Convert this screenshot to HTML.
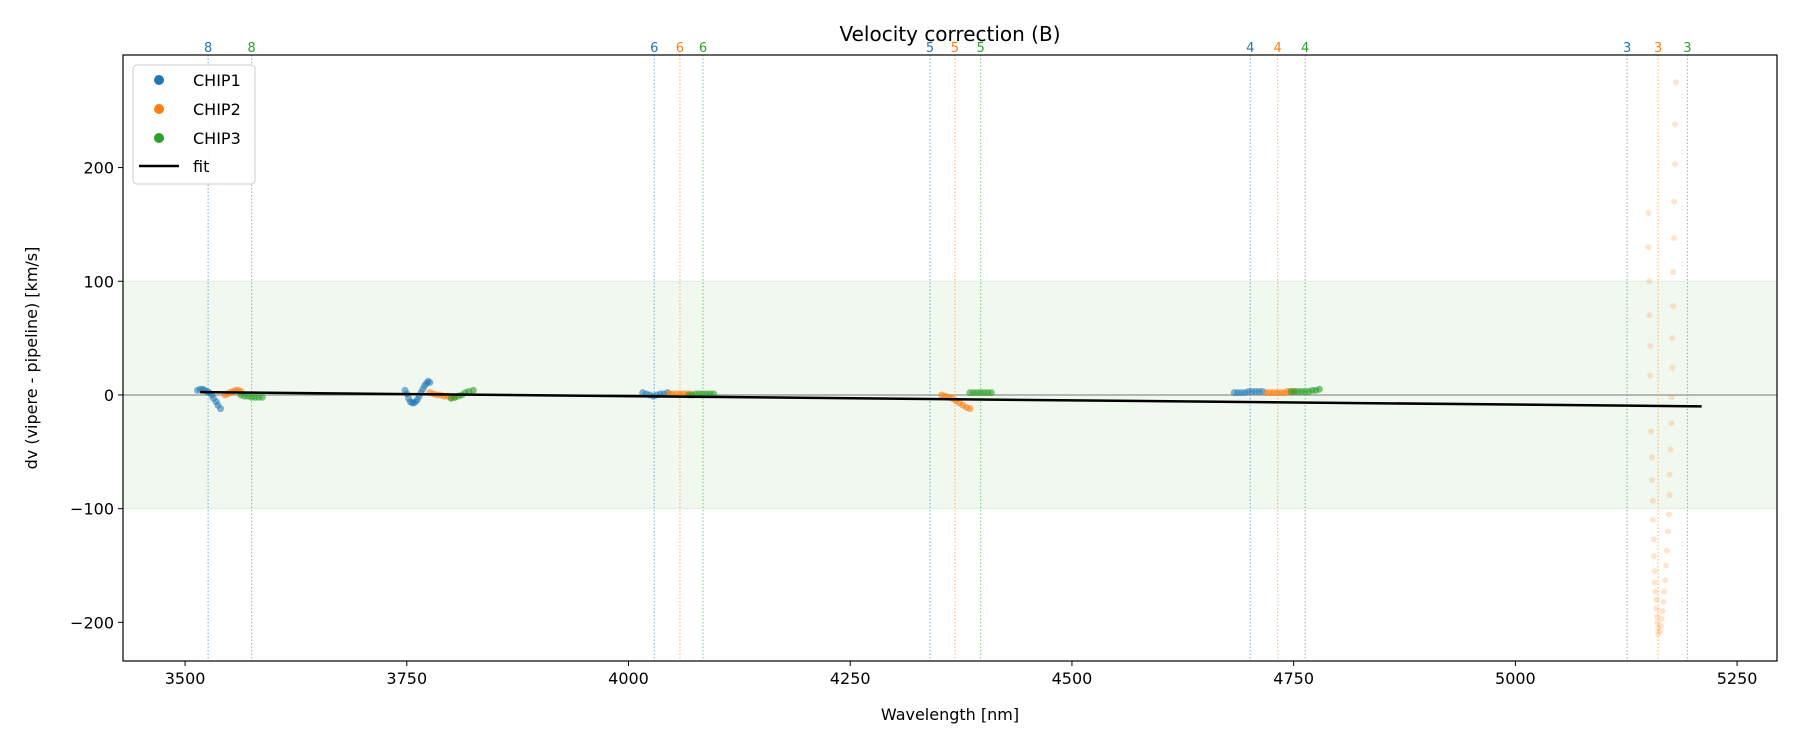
<!DOCTYPE html>
<html><head><meta charset="utf-8"><style>
body{margin:0;background:#fff;}
svg{display:block;font-family:"DejaVu Sans","Liberation Sans",sans-serif;}
</style></head><body>
<svg id="chart" width="1800" height="750"></svg>
<script>
// ---- data ----
const xTicks=[3500,3750,4000,4250,4500,4750,5000,5250];
const yTicks=[-200,-100,0,100,200];
const orderChip1=[3526,4029,4340,4701,5126];
const orderChip2=[4058,4368,4732,5161];
const orderChip3=[3575,4084,4397,4763,5194];
const orderLabels1=["8","6","5","4","3"];
const orderLabels2=["6","5","4","3"];
const orderLabels3=["8","6","5","4","3"];
const chip1W=[3514,3517,3520,3522,3525,3527,3530,3532,3535,3537,3540,3748,3750,3752,3754,3756,3758,3760,3762,3764,3766,3768,3770,3772,3774,3776,4016,4020,4024,4028,4032,4036,4040,4044,4683,4687,4691,4695,4699,4703,4707,4711,4715];
const chip1V=[4,5,5,4,3,2,0,-3,-6,-9,-12,4,1,-3,-6,-7,-7,-6,-4,-1,2,5,8,10,12,11,2,1,0,-1,0,1,1,2,2,2,2,2,3,3,3,3,3];
const chip2W=[3545,3548,3551,3554,3557,3560,3563,3776,3780,3784,3788,3792,3796,3800,3804,4046,4050,4054,4058,4062,4066,4070,4353,4357,4361,4365,4369,4373,4377,4381,4385,4719,4723,4727,4731,4735,4739,4743,4747,4751];
const chip2V=[0,1,2,3,4,4,3,2,1,0,0,-1,-1,-2,-2,1,1,1,1,1,1,1,0,-1,-2,-3,-5,-7,-9,-11,-12,2,2,2,2,2,2,3,3,3];
const chip3W=[3563,3567,3571,3575,3579,3583,3587,3800,3804,3808,3812,3816,3820,3825,4068,4072,4076,4080,4084,4088,4092,4096,4385,4389,4393,4397,4401,4405,4409,4747,4751,4755,4759,4763,4767,4771,4775,4779];
const chip3V=[0,-1,-1,-2,-2,-2,-2,-3,-2,-1,0,2,3,4,0,0,1,1,1,1,1,1,2,2,2,2,2,2,2,3,3,3,3,3,3,4,4,5];
const outW=[5150,5150,5151,5151,5152,5152,5153,5154,5154,5155,5155,5156,5156,5157,5157,5158,5159,5159,5160,5160,5161,5161,5181,5180,5180,5179,5179,5178,5178,5177,5177,5176,5176,5175,5174,5174,5173,5172,5171,5170,5169,5168,5167,5166,5165,5164,5163];
const outV=[160,130,100,70,43,17,-32,-55,-75,-93,-110,-127,-142,-155,-165,-173,-180,-188,-195,-200,-205,-210,275,238,203,170,138,108,78,50,24,-2,-25,-48,-70,-88,-105,-120,-137,-150,-163,-173,-182,-190,-197,-203,-208];
const fitW=[3517,5210];
const fitV=[2.5,-10];

// ---- layout ----
const L=123,R=1777,T=55,B=661;
const X0=3430,X1=5295,Y0=-234,Y1=299;
const sx=w=>L+(w-X0)/(X1-X0)*(R-L);
const sy=v=>B-(v-Y0)/(Y1-Y0)*(B-T);
const svg=document.getElementById('chart');
const NS='http://www.w3.org/2000/svg';
function mk(tag,attrs,parent){const e=document.createElementNS(NS,tag);for(const k in attrs)e.setAttribute(k,attrs[k]);(parent||svg).appendChild(e);return e;}
const C1='#1f77b4',C2='#ff7f0e',C3='#2ca02c';

let e=mk('rect',{x:L,y:sy(100),width:R-L,height:sy(-100)-sy(100),fill:'#2ca02c','fill-opacity':0.07});


mk('line',{x1:L,x2:R,y1:sy(100),y2:sy(100),stroke:'#2ca02c','stroke-opacity':0.12});
mk('line',{x1:L,x2:R,y1:sy(-100),y2:sy(-100),stroke:'#2ca02c','stroke-opacity':0.12});
e=mk('line',{x1:L,x2:R,y1:sy(0),y2:sy(0),stroke:'#777','stroke-width':1});



function orders(ws,labs,col){ws.forEach((w,i)=>{
  const ln=mk('line',{x1:sx(w),x2:sx(w),y1:T,y2:B,stroke:col,'stroke-opacity':0.5,'stroke-dasharray':'1.5,2','stroke-width':1.2});
  
  
  const t=mk('text',{x:sx(w),y:T-3,fill:col,'font-size':13,'text-anchor':'middle'});t.textContent=labs[i];
  
  
});}
orders(orderChip1,orderLabels1,C1);orders(orderChip2,orderLabels2,C2);orders(orderChip3,orderLabels3,C3);

function pts(ws,vs,col,op,r){ws.forEach((w,i)=>{
  const c=mk('circle',{cx:sx(w),cy:sy(vs[i]),r:r,fill:col,'fill-opacity':op});
  
  
});}
pts(outW,outV,C2,0.2,3);
pts(chip1W,chip1V,C1,0.55,3.5);
pts(chip2W,chip2V,C2,0.6,3.5);
pts(chip3W,chip3V,C3,0.6,3.5);

e=mk('line',{x1:sx(fitW[0]),y1:sy(fitV[0]),x2:sx(fitW[1]),y2:sy(fitV[1]),stroke:'#000','stroke-width':2.5});



e=mk('rect',{x:L,y:T,width:R-L,height:B-T,fill:'none',stroke:'#000','stroke-width':1.2});



xTicks.forEach(v=>{mk('line',{x1:sx(v),x2:sx(v),y1:B,y2:B+5,stroke:'#000'});
  const t=mk('text',{x:sx(v),y:B+23,'font-size':16,'text-anchor':'middle'});t.textContent=v;
  
  });
yTicks.forEach(v=>{mk('line',{x1:L-5,x2:L,y1:sy(v),y2:sy(v),stroke:'#000'});
  const t=mk('text',{x:L-9,y:sy(v)+6,'font-size':16,'text-anchor':'end'});t.textContent=(v<0?'\u2212'+(-v):v);
  
  });

e=mk('text',{x:(L+R)/2,y:41,'font-size':20,'text-anchor':'middle'});e.textContent='Velocity correction (B)';


e=mk('text',{x:(L+R)/2,y:720,'font-size':16,'text-anchor':'middle'});e.textContent='Wavelength [nm]';


e=mk('text',{x:37,y:(T+B)/2,'font-size':16,'text-anchor':'middle',transform:`rotate(-90 37 ${(T+B)/2})`});e.textContent='dv (vipere - pipeline) [km/s]';



const lg=mk('g',{});


mk('rect',{x:133,y:65,width:122,height:119,rx:4,fill:'#fff','fill-opacity':0.85,stroke:'#ccc'},lg);
[['CHIP1',C1],['CHIP2',C2],['CHIP3',C3]].forEach((d,i)=>{const y=80+i*29;
  mk('circle',{cx:159,cy:y,r:5,fill:d[1]},lg);
  const t=mk('text',{x:193,y:y+6,'font-size':16},lg);t.textContent=d[0];
  
  });
mk('line',{x1:139,x2:179,y1:166,y2:166,stroke:'#000','stroke-width':2.5},lg);
e=mk('text',{x:193,y:172,'font-size':16},lg);e.textContent='fit';


</script>
</body></html>
